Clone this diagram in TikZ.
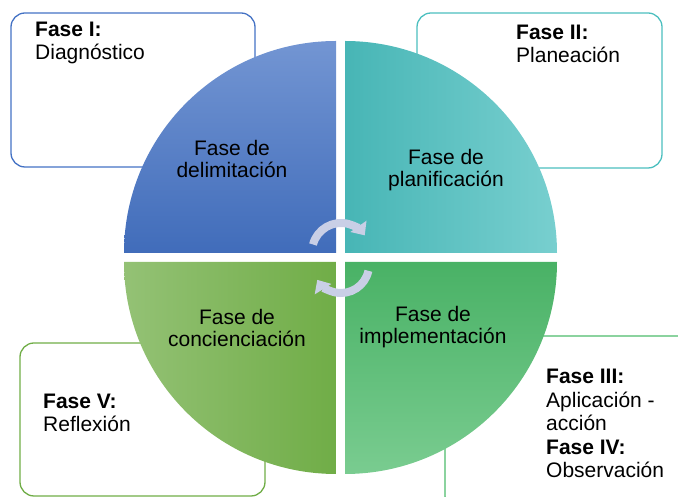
\documentclass[tikz,border=0pt]{standalone}
\usepackage{fontspec}
\setmainfont{Liberation Sans}
\usetikzlibrary{arrows.meta}
\definecolor{delimblue}{HTML}{4472C4}
\definecolor{planteal}{HTML}{4BBFBF}
\definecolor{concgreen}{HTML}{70AD47}
\definecolor{implgreen}{HTML}{4DBB6B}
\definecolor{arrowgray}{HTML}{C9CFE6}

\begin{document}
\begin{tikzpicture}[
		x=1pt,y=1pt,
		phasebox/.style={line width=1.3pt,rounded corners=14pt},
		phasetext/.style={inner sep=0pt,anchor=base west,align=left,font=\fontsize{21}{23.5}\selectfont},
		quadtext/.style={inner sep=0pt,anchor=base,align=center,font=\fontsize{21}{22.5}\selectfont},
		cyclearrow/.style={line width=8pt,draw=arrowgray,-{Triangle[width=19pt,length=11pt]}}
		]
		\useasboundingbox (0,0) rectangle (678,497);
		\clip (0,0) rectangle (678,497);
		% corner boxes
		\draw[phasebox,delimblue] (11,330) rectangle (255,484);
		\draw[phasebox,planteal] (417,329) rectangle (662,484);
		\draw[phasebox,concgreen] (20,1) rectangle (265,154);
		\draw[phasebox,implgreen] (445,-13) rectangle (700,161);
		\node[phasetext] (fase1) at (35,437) {\textbf{Fase I:}\\Diagnóstico};
		\node[phasetext] (fase2) at (516,434) {\textbf{Fase II:}\\Planeación};
		\node[phasetext] (fase5) at (43,65) {\textbf{Fase V:}\\Reflexión};
		\node[phasetext] (fase34) at (546,19) {\textbf{Fase III:}\\Aplicación -\\acción\\\textbf{Fase IV:}\\Observación};
		% quadrants
		\shade[top color=delimblue!75!white,bottom color=delimblue!95!black] (336,244) -- (124,244) arc[start angle=180,end angle=90,radius=212] -- cycle;
		\shade[left color=planteal!95!black,right color=planteal!75!white] (345,244) -- (345,456) arc[start angle=90,end angle=0,radius=212] -- cycle;
		\shade[left color=concgreen!75!white,right color=concgreen] (336,235) -- (124,235) arc[start angle=180,end angle=270,radius=212] -- cycle;
		\shade[top color=implgreen!95!black,bottom color=implgreen!75!white] (345,235) -- (557,235) arc[start angle=0,end angle=-90,radius=212] -- cycle;
		\node[quadtext] (delim) at (232,319) {Fase de\\delimitación};
		\node[quadtext] (plan) at (446,310) {Fase de\\planificación};
		\node[quadtext] (conc) at (237,150) {Fase de\\concienciación};
		\node[quadtext] (impl) at (433,153) {Fase de\\implementación};
		% cycle arrows
		\coordinate (hubtop) at (341,245);
		\coordinate (hubbot) at (341,232);
		\draw[cyclearrow] (hubtop) ++(165:29) arc[start angle=165,end angle=35,radius=29];
		\draw[cyclearrow] (hubbot) ++(-12:28) arc[start angle=-12,end angle=-148,radius=28];
	\end{tikzpicture}
\end{document}
